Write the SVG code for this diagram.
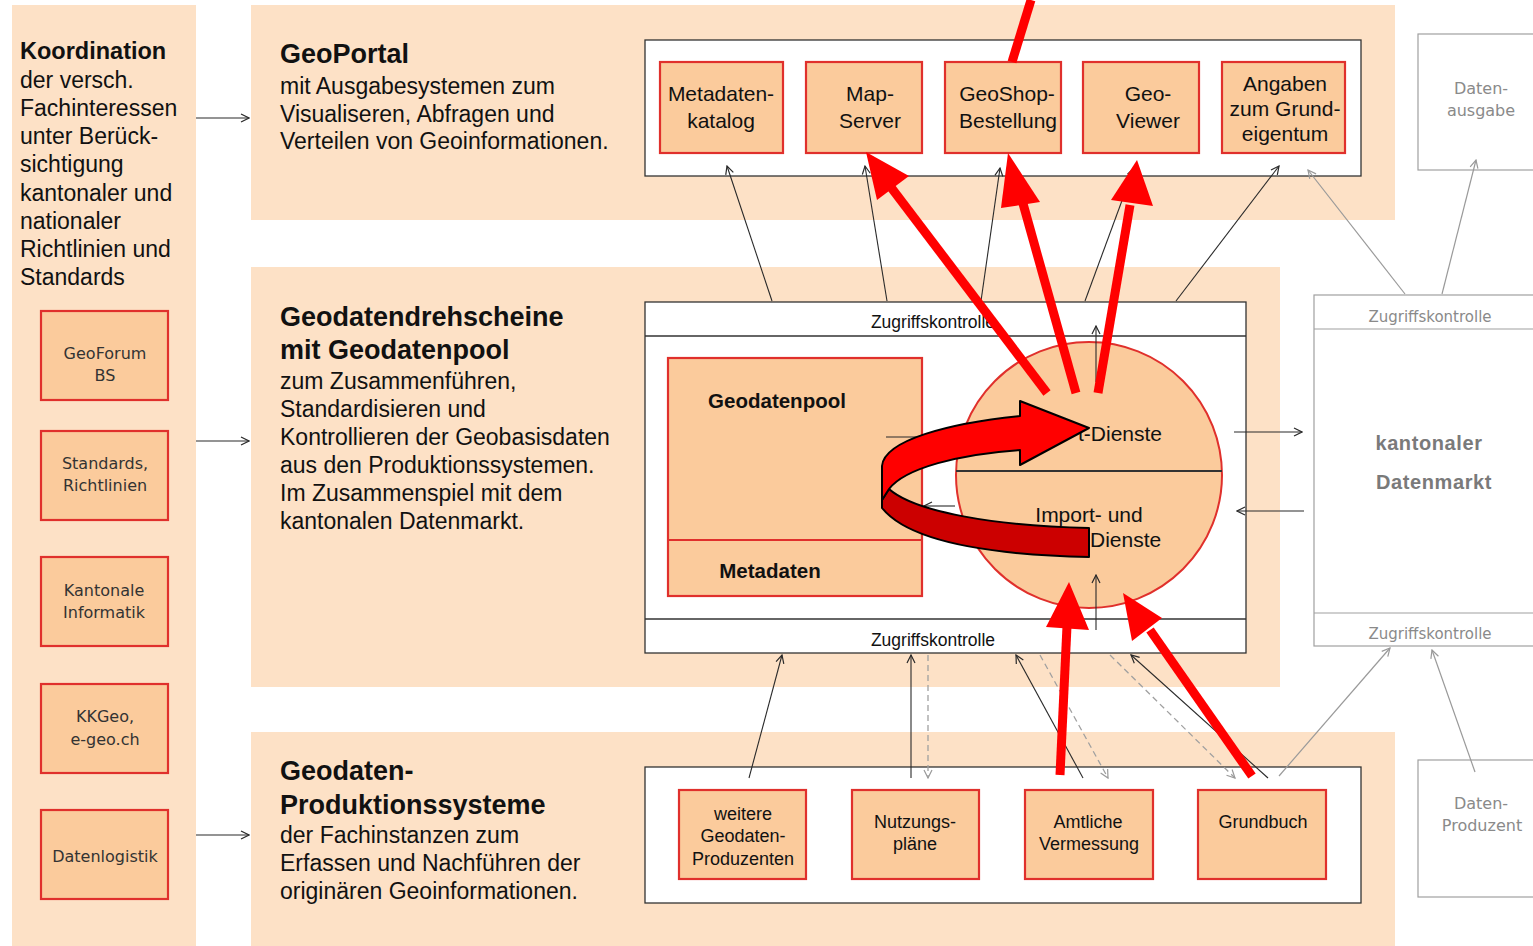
<svg xmlns="http://www.w3.org/2000/svg" width="1533" height="946" viewBox="0 0 1533 946">
<defs>
<style>
.panel{fill:#FDE1C6;stroke:none}
.wbox{fill:#FFFFFF;stroke:#333333;stroke-width:1.3}
.gbox{fill:#FFFFFF;stroke:#A0A0A0;stroke-width:1.2}
.node{fill:#FBCB9C;stroke:#E0302C;stroke-width:2.2}
.t{font-family:"Liberation Sans",Arial,sans-serif;fill:#111111}
.b{font-weight:bold}
.v{font-family:"DejaVu Sans",Verdana,sans-serif;fill:#333333}
.g{font-family:"DejaVu Sans",Verdana,sans-serif;fill:#8A8A8A}
.c{stroke:#2A2A2A;stroke-width:1.1;fill:none}
.cg{stroke:#9A9A9A;stroke-width:1.2;fill:none}
.cd{stroke:#A0A0A0;stroke-width:1.3;fill:none;stroke-dasharray:6 4}
.red{stroke:#FF0000;stroke-width:9;fill:none}
.redhead{fill:#FF0000;stroke:none}
</style>
<marker id="ab" viewBox="0 0 10 10" refX="9" refY="5" markerWidth="10" markerHeight="10" markerUnits="userSpaceOnUse" orient="auto">
<path d="M1,1 L9,5 L1,9" fill="none" stroke="#2A2A2A" stroke-width="1.2"/>
</marker>
<marker id="ag" viewBox="0 0 10 10" refX="9" refY="5" markerWidth="10" markerHeight="10" markerUnits="userSpaceOnUse" orient="auto">
<path d="M1,1 L9,5 L1,9" fill="none" stroke="#9A9A9A" stroke-width="1.2"/>
</marker>
</defs>
<rect width="1533" height="946" fill="#FFFFFF"/>

<!-- panels -->
<g id="panels">
<rect class="panel" x="12" y="5" width="184" height="941"/>
<rect class="panel" x="251" y="5" width="1144" height="215"/>
<rect class="panel" x="251" y="267" width="1029" height="420"/>
<rect class="panel" x="251" y="732" width="1144" height="214"/>
</g>

<!-- left column -->
<g id="koordination">
<text class="t" font-size="23" x="20"><tspan class="b" font-size="23.5" x="20" y="59">Koordination</tspan><tspan x="20" y="88">der versch.</tspan><tspan x="20" y="116">Fachinteressen</tspan><tspan x="20" y="144">unter Berück-</tspan><tspan x="20" y="172">sichtigung</tspan><tspan x="20" y="201">kantonaler und</tspan><tspan x="20" y="229">nationaler</tspan><tspan x="20" y="257">Richtlinien und</tspan><tspan x="20" y="285">Standards</tspan></text>
</g>
<g id="geoforum"><rect class="node" x="41" y="311" width="127" height="89"/><text class="v" font-size="16" text-anchor="middle"><tspan x="105" y="359">GeoForum</tspan><tspan x="105" y="381">BS</tspan></text></g>
<g id="standards"><rect class="node" x="41" y="431" width="127" height="89"/><text class="v" font-size="16" text-anchor="middle"><tspan x="105" y="469">Standards,</tspan><tspan x="105" y="491">Richtlinien</tspan></text></g>
<g id="informatik"><rect class="node" x="41" y="557" width="127" height="89"/><text class="v" font-size="16" text-anchor="middle"><tspan x="104" y="596">Kantonale</tspan><tspan x="104" y="618">Informatik</tspan></text></g>
<g id="kkgeo"><rect class="node" x="41" y="684" width="127" height="89"/><text class="v" font-size="16" text-anchor="middle"><tspan x="105" y="722">KKGeo,</tspan><tspan x="105" y="745">e-geo.ch</tspan></text></g>
<g id="datenlogistik"><rect class="node" x="41" y="810" width="127" height="89"/><text class="v" font-size="16" text-anchor="middle" x="105" y="862">Datenlogistik</text></g>

<!-- panel texts -->
<g id="geoportal-text">
<text class="t" font-size="23"><tspan class="b" font-size="27" x="280" y="63">GeoPortal</tspan><tspan x="280" y="94">mit Ausgabesystemen zum</tspan><tspan x="280" y="122">Visualiseren, Abfragen und</tspan><tspan x="280" y="149">Verteilen von Geoinformationen.</tspan></text>
</g>
<g id="drehscheibe-text">
<text class="t" font-size="23"><tspan class="b" font-size="27" x="280" y="326">Geodatendrehscheine</tspan><tspan class="b" font-size="27" x="280" y="359">mit Geodatenpool</tspan><tspan x="280" y="389">zum Zusammenführen,</tspan><tspan x="280" y="417">Standardisieren und</tspan><tspan x="280" y="445">Kontrollieren der Geobasisdaten</tspan><tspan x="280" y="473">aus den Produktionssystemen.</tspan><tspan x="280" y="501">Im Zusammenspiel mit dem</tspan><tspan x="280" y="529">kantonalen Datenmarkt.</tspan></text>
</g>
<g id="produktion-text">
<text class="t" font-size="23"><tspan class="b" font-size="27" x="280" y="780">Geodaten-</tspan><tspan class="b" font-size="27" x="280" y="814">Produktionssysteme</tspan><tspan x="280" y="843">der Fachinstanzen zum</tspan><tspan x="280" y="871">Erfassen und Nachführen der</tspan><tspan x="280" y="899">originären Geoinformationen.</tspan></text>
</g>

<!-- GeoPortal box -->
<g id="geoportal-box"><rect class="wbox" x="645" y="40" width="716" height="136"/></g>
<g id="metadatenkatalog"><rect class="node" x="660" y="62" width="123" height="91"/><text class="t" font-size="21" text-anchor="middle"><tspan x="721" y="101">Metadaten-</tspan><tspan x="721" y="128">katalog</tspan></text></g>
<g id="mapserver"><rect class="node" x="806" y="62" width="116" height="91"/><text class="t" font-size="21" text-anchor="middle"><tspan x="870" y="101">Map-</tspan><tspan x="870" y="128">Server</tspan></text></g>
<g id="geoshop"><rect class="node" x="945" y="62" width="116" height="91"/><text class="t" font-size="21" text-anchor="middle"><tspan x="1007" y="101">GeoShop-</tspan><tspan x="1008" y="128">Bestellung</tspan></text></g>
<g id="geoviewer"><rect class="node" x="1083" y="62" width="116" height="91"/><text class="t" font-size="21" text-anchor="middle"><tspan x="1148" y="101">Geo-</tspan><tspan x="1148" y="128">Viewer</tspan></text></g>
<g id="grundeigentum"><rect class="node" x="1222" y="62" width="123" height="91"/><text class="t" font-size="21" text-anchor="middle"><tspan x="1285" y="91">Angaben</tspan><tspan x="1285" y="116">zum Grund-</tspan><tspan x="1285" y="141">eigentum</tspan></text></g>

<!-- Drehscheibe box -->
<g id="drehscheibe-box">
<rect class="wbox" x="645" y="302" width="601" height="351"/>
<line x1="645" y1="336" x2="1246" y2="336" stroke="#333" stroke-width="1.3"/>
<line x1="645" y1="619" x2="1246" y2="619" stroke="#333" stroke-width="1.3"/>
<text class="t" font-size="17.5" text-anchor="middle" x="933" y="328">Zugriffskontrolle</text>
<text class="t" font-size="17.5" text-anchor="middle" x="933" y="646">Zugriffskontrolle</text>
</g>
<g id="geodatenpool">
<rect class="node" x="668" y="358" width="254" height="238"/>
<line x1="668" y1="540" x2="922" y2="540" stroke="#E0302C" stroke-width="2.2"/>
<text class="t b" font-size="20.5" text-anchor="middle" x="777" y="408">Geodatenpool</text>
<text class="t b" font-size="20.5" text-anchor="middle" x="770" y="578">Metadaten</text>
</g>
<g id="dienste">
<circle cx="1089" cy="475" r="133" fill="#FBCB9C" stroke="#E0302C" stroke-width="2"/>
<line x1="956" y1="471" x2="1222" y2="471" stroke="#333" stroke-width="1.8"/>
<text class="t" font-size="21" x="1078" y="441">t-Dienste</text>
<text class="t" font-size="21" text-anchor="middle" x="1089" y="522">Import- und</text>
<text class="t" font-size="21" x="1090" y="547">Dienste</text>
</g>

<!-- Produktion box -->
<g id="produktion-box"><rect class="wbox" x="645" y="767" width="716" height="136"/></g>
<g id="weitere"><rect class="node" x="679" y="790" width="127" height="89"/><text class="t" font-size="18" fill="#222" text-anchor="middle"><tspan x="743" y="820">weitere</tspan><tspan x="743" y="842">Geodaten-</tspan><tspan x="743" y="865">Produzenten</tspan></text></g>
<g id="nutzungsplaene"><rect class="node" x="852" y="790" width="127" height="89"/><text class="t" font-size="18" text-anchor="middle"><tspan x="915" y="828">Nutzungs-</tspan><tspan x="915" y="850">pläne</tspan></text></g>
<g id="vermessung"><rect class="node" x="1025" y="790" width="128" height="89"/><text class="t" font-size="18" text-anchor="middle"><tspan x="1088" y="828">Amtliche</tspan><tspan x="1089" y="850">Vermessung</tspan></text></g>
<g id="grundbuch"><rect class="node" x="1198" y="790" width="128" height="89"/><text class="t" font-size="18" text-anchor="middle" x="1263" y="828">Grundbuch</text></g>

<!-- right grey -->
<g id="datenausgabe"><rect class="gbox" x="1418" y="34" width="130" height="136"/><text class="g" font-size="16" text-anchor="middle"><tspan x="1481" y="94">Daten-</tspan><tspan x="1481" y="116">ausgabe</tspan></text></g>
<g id="datenmarkt">
<rect class="gbox" x="1314" y="295" width="230" height="351"/>
<line x1="1314" y1="329" x2="1533" y2="329" stroke="#A0A0A0" stroke-width="1.2"/>
<line x1="1314" y1="613" x2="1533" y2="613" stroke="#A0A0A0" stroke-width="1.2"/>
<text class="g" font-size="15" text-anchor="middle" x="1430" y="322">Zugriffskontrolle</text>
<text class="g" font-size="15" text-anchor="middle" x="1430" y="639">Zugriffskontrolle</text>
<text class="t b" font-size="20" fill="#7A7A7A" letter-spacing="0.6" text-anchor="middle" x="1429" y="450" style="fill:#7A7A7A">kantonaler</text>
<text class="t b" font-size="20" letter-spacing="0.6" text-anchor="middle" x="1434" y="489" style="fill:#7A7A7A">Datenmarkt</text>
</g>
<g id="datenproduzent"><rect class="gbox" x="1418" y="760" width="130" height="137"/><text class="g" font-size="16" text-anchor="middle"><tspan x="1481" y="809">Daten-</tspan><tspan x="1482" y="831">Produzent</tspan></text></g>

<!-- connectors -->
<g id="connectors">
<line class="c" x1="196" y1="118" x2="249" y2="118" marker-end="url(#ab)"/>
<line class="c" x1="196" y1="441" x2="249" y2="441" marker-end="url(#ab)"/>
<line class="c" x1="196" y1="835" x2="249" y2="835" marker-end="url(#ab)"/>

<line class="c" x1="772" y1="301" x2="727" y2="166" marker-end="url(#ab)"/>
<line class="c" x1="887" y1="301" x2="865" y2="166" marker-end="url(#ab)"/>
<line class="c" x1="981" y1="301" x2="1000" y2="168" marker-end="url(#ab)"/>
<line class="c" x1="1085" y1="301" x2="1134" y2="168" marker-end="url(#ab)"/>
<line class="c" x1="1176" y1="301" x2="1279" y2="166" marker-end="url(#ab)"/>
<line class="cg" x1="1405" y1="294" x2="1308" y2="170" marker-end="url(#ag)"/>
<line class="cg" x1="1442" y1="294" x2="1476" y2="160" marker-end="url(#ag)"/>

<line class="c" x1="1096" y1="382" x2="1096" y2="326" marker-end="url(#ab)"/>
<line class="c" x1="1096" y1="630" x2="1096" y2="575" marker-end="url(#ab)"/>
<line class="c" x1="886" y1="437" x2="955" y2="437" marker-end="url(#ab)"/>
<line class="c" x1="955" y1="506" x2="924" y2="506" marker-end="url(#ab)"/>
<line class="c" x1="1234" y1="432" x2="1302" y2="432" marker-end="url(#ab)"/>
<line class="c" x1="1304" y1="511" x2="1237" y2="511" marker-end="url(#ab)"/>

<line class="c" x1="749" y1="778" x2="782" y2="655" marker-end="url(#ab)"/>
<line class="c" x1="911" y1="778" x2="911" y2="655" marker-end="url(#ab)"/>
<line class="cd" x1="928" y1="655" x2="928" y2="778" marker-end="url(#ag)"/>
<line class="c" x1="1083" y1="778" x2="1016" y2="655" marker-end="url(#ab)"/>
<line class="cd" x1="1040" y1="655" x2="1108" y2="778" marker-end="url(#ag)"/>
<line class="cd" x1="1110" y1="655" x2="1235" y2="778" marker-end="url(#ag)"/>
<line class="c" x1="1268" y1="778" x2="1131" y2="655" marker-end="url(#ab)"/>
<line class="cg" x1="1279" y1="776" x2="1390" y2="648" marker-end="url(#ag)"/>
<line class="cg" x1="1475" y1="772" x2="1432" y2="650" marker-end="url(#ag)"/>
</g>

<!-- red highlight arrows -->
<g id="red-arrows">
<line class="red" x1="1031" y1="0" x2="1012" y2="62"/>
<line class="red" x1="1047" y1="393" x2="890" y2="186"/>
<polygon class="redhead" points="866,152 909,176 877,200"/>
<line class="red" x1="1076" y1="393" x2="1022" y2="200"/>
<polygon class="redhead" points="1008,153 1040,202 1001,208"/>
<line class="red" x1="1098" y1="393" x2="1130" y2="205"/>
<polygon class="redhead" points="1137,160 1153,206 1111,200"/>
<line class="red" x1="1060" y1="775" x2="1067" y2="626"/>
<polygon class="redhead" points="1069,582 1089,630 1046,627"/>
<line class="red" x1="1252" y1="776" x2="1150" y2="630"/>
<polygon class="redhead" points="1123,593 1162,618 1132,641"/>
</g>

<!-- U-turn arrow -->
<g id="uturn-arrow" stroke="#000" stroke-width="2" stroke-linejoin="round">
<path d="M889,489 C915,512 995,526 1089,528 L1089,557 C995,555 910,543 882,508 L882,500 Z" fill="#CC0000"/>
<path d="M1020,416 L1020,401 L1089,428 L1020,465 L1020,450 C960,454 905,468 889,489 L882,500 L882,466 C884,440 950,423 1020,416 Z" fill="#FF0000"/>
</g>
</svg>
